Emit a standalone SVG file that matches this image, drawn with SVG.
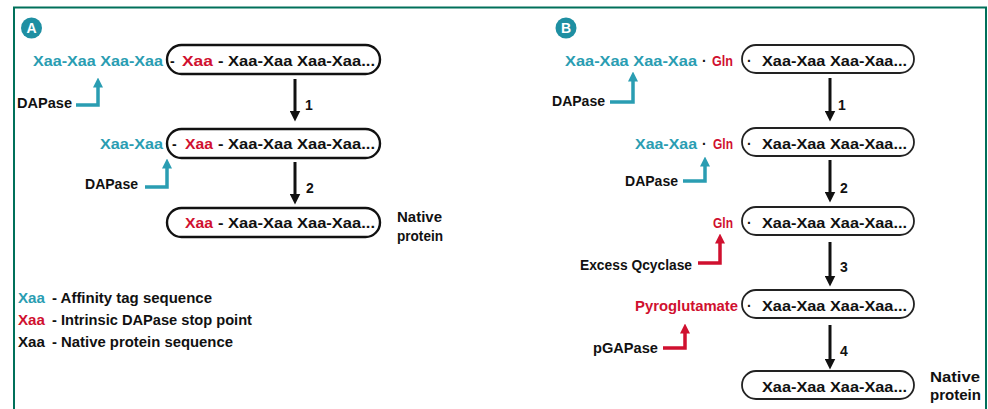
<svg xmlns="http://www.w3.org/2000/svg" width="988" height="409" viewBox="0 0 988 409">
  <defs>
    <style>
      text { font-family: "Liberation Sans", Arial, sans-serif; font-weight: bold; font-size: 14px; fill: #111; }
      .t { fill: #2a9db2; }
      .r { fill: #d0102f; }
      .w { fill: #fff; }
      .lg { font-size: 15px; }
      .badge { fill: #1e8fa2; }
      .pillA { fill: #fff; stroke: #111; stroke-width: 2.4; }
      .pillB { fill: #fff; stroke: #222; stroke-width: 1.8; }
      .step { stroke: #111; stroke-width: 3; fill: none; }
      .bt { stroke: #2a9db2; stroke-width: 3.5; fill: none; stroke-linejoin: miter; }
      .br { stroke: #d0102f; stroke-width: 3.5; fill: none; stroke-linejoin: miter; }
      .frame { fill: none; stroke: #00705a; stroke-width: 2; }
    </style>
    <marker id="headK" viewBox="0 0 11 11" refX="0.5" refY="5.5" markerWidth="11" markerHeight="11" markerUnits="userSpaceOnUse" orient="auto">
      <path d="M0,0 L11,5.5 L0,11 z" fill="#111"/>
    </marker>
    <marker id="headT" viewBox="0 0 10 10" refX="0.5" refY="5" markerWidth="10" markerHeight="10" markerUnits="userSpaceOnUse" orient="auto">
      <path d="M0,0 L10,5 L0,10 z" fill="#2a9db2"/>
    </marker>
    <marker id="headR" viewBox="0 0 10 10" refX="0.5" refY="5" markerWidth="10" markerHeight="10" markerUnits="userSpaceOnUse" orient="auto">
      <path d="M0,0 L10,5 L0,10 z" fill="#d0102f"/>
    </marker>
  </defs>

  <rect width="988" height="409" fill="#fff"/>
  <path class="frame" d="M14,409 V7.5 H986 V409"/>

  <!-- Panel A -->
  <g id="badge-a">
    <circle class="badge" cx="31.5" cy="28" r="10.5"/>
    <text class="w" x="31.5" y="33" text-anchor="middle">A</text>
  </g>

  <g id="a-row1">
    <text class="t" x="33" y="66" textLength="130" lengthAdjust="spacingAndGlyphs">Xaa-Xaa Xaa-Xaa</text>
    <rect class="pillA" x="167" y="45" width="213" height="29" rx="14.5"/>
    <text x="170" y="66">-</text>
    <text class="r" x="182" y="66" textLength="31" lengthAdjust="spacingAndGlyphs">Xaa</text>
    <text x="218" y="66" textLength="157" lengthAdjust="spacingAndGlyphs">- Xaa-Xaa Xaa-Xaa...</text>
  </g>

  <g id="a-dapase1">
    <text x="17" y="108" textLength="55" lengthAdjust="spacingAndGlyphs">DAPase</text>
  </g>

  <g id="a-row2">
    <text class="t" x="100" y="149" textLength="63" lengthAdjust="spacingAndGlyphs">Xaa-Xaa</text>
    <rect class="pillA" x="167" y="129" width="213" height="29" rx="14.5"/>
    <text x="172" y="149">-</text>
    <text class="r" x="185" y="149" textLength="28" lengthAdjust="spacingAndGlyphs">Xaa</text>
    <text x="218" y="149" textLength="157" lengthAdjust="spacingAndGlyphs">- Xaa-Xaa Xaa-Xaa...</text>
  </g>

  <g id="a-dapase2">
    <text x="85" y="189" textLength="53" lengthAdjust="spacingAndGlyphs">DAPase</text>
  </g>

  <g id="a-row3">
    <rect class="pillA" x="167" y="208" width="213" height="29" rx="14.5"/>
    <text class="r" x="185" y="228" textLength="28" lengthAdjust="spacingAndGlyphs">Xaa</text>
    <text x="218" y="228" textLength="157" lengthAdjust="spacingAndGlyphs">- Xaa-Xaa Xaa-Xaa...</text>
    <text x="397" y="222" textLength="45" lengthAdjust="spacingAndGlyphs">Native</text>
    <text x="397" y="241" textLength="46" lengthAdjust="spacingAndGlyphs">protein</text>
  </g>

  <g id="legend">
    <text class="lg t" x="18" y="303" textLength="27" lengthAdjust="spacingAndGlyphs">Xaa</text>
    <text class="lg" x="52" y="303" textLength="160" lengthAdjust="spacingAndGlyphs">- Affinity tag sequence</text>
    <text class="lg r" x="18" y="325" textLength="27" lengthAdjust="spacingAndGlyphs">Xaa</text>
    <text class="lg" x="52" y="325" textLength="200" lengthAdjust="spacingAndGlyphs">- Intrinsic DAPase stop point</text>
    <text class="lg" x="18" y="347" textLength="27" lengthAdjust="spacingAndGlyphs">Xaa</text>
    <text class="lg" x="52" y="347" textLength="181" lengthAdjust="spacingAndGlyphs">- Native protein sequence</text>
  </g>

  <!-- Panel B -->
  <g id="badge-b">
    <circle class="badge" cx="566" cy="28" r="10.5"/>
    <text class="w" x="566" y="33" text-anchor="middle">B</text>
  </g>

  <g id="b-row1">
    <text class="t" x="565" y="66" textLength="132" lengthAdjust="spacingAndGlyphs">Xaa-Xaa Xaa-Xaa</text>
    <text x="702" y="66">·</text>
    <text class="r" x="712" y="66" textLength="21" lengthAdjust="spacingAndGlyphs">Gln</text>
    <rect class="pillB" x="742" y="45" width="172" height="28" rx="14"/>
    <text x="747" y="66">·</text>
    <text x="762" y="66" textLength="145" lengthAdjust="spacingAndGlyphs">Xaa-Xaa Xaa-Xaa...</text>
  </g>

  <g id="b-dapase1">
    <text x="552" y="106" textLength="53" lengthAdjust="spacingAndGlyphs">DAPase</text>
  </g>

  <g id="b-row2">
    <text class="t" x="635" y="149" textLength="62" lengthAdjust="spacingAndGlyphs">Xaa-Xaa</text>
    <text x="702" y="149">·</text>
    <text class="r" x="713" y="149" textLength="20" lengthAdjust="spacingAndGlyphs">Gln</text>
    <rect class="pillB" x="742" y="128" width="172" height="28" rx="14"/>
    <text x="747" y="149">·</text>
    <text x="762" y="149" textLength="145" lengthAdjust="spacingAndGlyphs">Xaa-Xaa Xaa-Xaa...</text>
  </g>

  <g id="b-dapase2">
    <text x="625" y="186" textLength="53" lengthAdjust="spacingAndGlyphs">DAPase</text>
  </g>

  <g id="b-row3">
    <text class="r" x="713" y="228" textLength="20" lengthAdjust="spacingAndGlyphs">Gln</text>
    <rect class="pillB" x="742" y="207" width="172" height="28" rx="14"/>
    <text x="747" y="228">·</text>
    <text x="762" y="228" textLength="145" lengthAdjust="spacingAndGlyphs">Xaa-Xaa Xaa-Xaa...</text>
  </g>

  <g id="b-qcyclase">
    <text x="580" y="270" textLength="112" lengthAdjust="spacingAndGlyphs">Excess Qcyclase</text>
  </g>

  <g id="b-row4">
    <text class="r" x="635" y="311" textLength="103" lengthAdjust="spacingAndGlyphs">Pyroglutamate</text>
    <rect class="pillB" x="742" y="290" width="172" height="28" rx="14"/>
    <text x="747" y="311">·</text>
    <text x="762" y="311" textLength="145" lengthAdjust="spacingAndGlyphs">Xaa-Xaa Xaa-Xaa...</text>
  </g>

  <g id="b-pgapase">
    <text x="593" y="353" textLength="65" lengthAdjust="spacingAndGlyphs">pGAPase</text>
  </g>

  <g id="b-row5">
    <rect class="pillB" x="742" y="371" width="172" height="28" rx="14"/>
    <text x="762" y="392" textLength="145" lengthAdjust="spacingAndGlyphs">Xaa-Xaa Xaa-Xaa...</text>
    <text x="930" y="382" textLength="50" lengthAdjust="spacingAndGlyphs">Native</text>
    <text x="930" y="400" textLength="51" lengthAdjust="spacingAndGlyphs">protein</text>
  </g>

  <!-- Connectors: step arrows, enzyme pointers and step numbers -->
  <g id="connectors">
    <path class="step" d="M295,79 V111" marker-end="url(#headK)"/>
    <path class="step" d="M295,162 V194" marker-end="url(#headK)"/>
    <text x="305" y="110">1</text>
    <text x="306" y="193">2</text>
    <path class="bt" d="M76,105 H98 V87" marker-end="url(#headT)"/>
    <path class="bt" d="M145,187 H167 V168" marker-end="url(#headT)"/>

    <path class="step" d="M830,78 V111" marker-end="url(#headK)"/>
    <path class="step" d="M830,160 V192" marker-end="url(#headK)"/>
    <path class="step" d="M830,242 V276" marker-end="url(#headK)"/>
    <path class="step" d="M830,325 V359" marker-end="url(#headK)"/>
    <text x="838" y="110">1</text>
    <text x="840" y="193">2</text>
    <text x="840" y="272">3</text>
    <text x="840" y="356">4</text>
    <path class="bt" d="M610,102 H633 V81" marker-end="url(#headT)"/>
    <path class="bt" d="M683,181 H705 V166" marker-end="url(#headT)"/>
    <path class="br" d="M698,263 H720 V243" marker-end="url(#headR)"/>
    <path class="br" d="M663,348 H685 V333" marker-end="url(#headR)"/>
  </g>
</svg>
